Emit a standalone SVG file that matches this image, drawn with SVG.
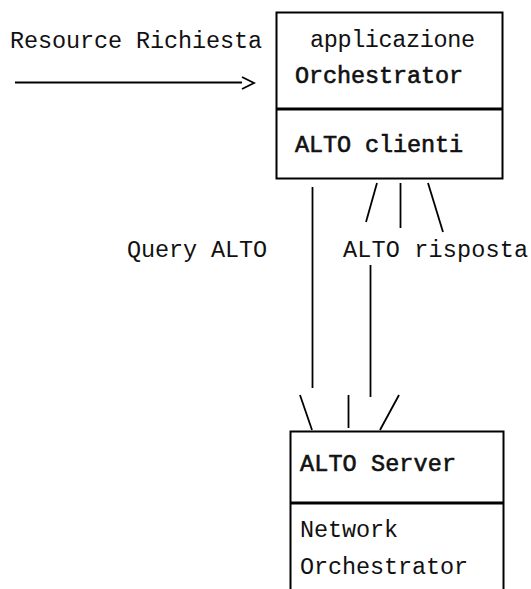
<svg xmlns="http://www.w3.org/2000/svg" width="531" height="589" viewBox="0 0 531 589">
  <style>
    .t { font-family: "Liberation Mono", "DejaVu Sans Mono", monospace; font-size: 23.5px; fill: #111; }
    .b { stroke: #111; stroke-width: 0.6; }
    .box { fill: #fff; stroke: #000; stroke-width: 2; }
    .div { stroke: #000; stroke-width: 3; }
    .ln { stroke: #000; stroke-width: 1.8; fill: none; }
  </style>
  <rect width="531" height="589" fill="#fff"/>

  <!-- connectors -->
  <g id="connectors">
    <line class="ln" x1="15" y1="82.5" x2="242" y2="82.5"/>
    <polyline class="ln" points="242,77 254,83 242,89" stroke-width="1.5"/>
    <!-- query: client to server -->
    <line class="ln" x1="312.5" y1="187" x2="312.5" y2="388"/>
    <line class="ln" x1="300" y1="395" x2="312" y2="430"/>
    <line class="ln" x1="348.5" y1="395" x2="348.5" y2="428"/>
    <line class="ln" x1="399" y1="395" x2="380" y2="430"/>
    <!-- response: server to client -->
    <line class="ln" x1="370.5" y1="265" x2="370.5" y2="397"/>
    <line class="ln" x1="377" y1="183" x2="366" y2="222"/>
    <line class="ln" x1="400.5" y1="183" x2="400.5" y2="228"/>
    <line class="ln" x1="428" y1="183" x2="443" y2="232"/>
  </g>

  <g id="labels">
    <text class="t" x="10" y="48" textLength="252">Resource Richiesta</text>
    <text class="t" x="127" y="257" textLength="140">Query ALTO</text>
    <text class="t" x="343" y="257" textLength="185">ALTO risposta</text>
  </g>

  <g id="orchestrator">
    <rect class="box" x="276.5" y="12.5" width="226" height="166"/>
    <line class="div" x1="276.5" y1="109" x2="502.5" y2="109"/>
    <text class="t" x="310" y="47" textLength="165">applicazione</text>
    <text class="t b" x="295" y="83" textLength="168">Orchestrator</text>
    <text class="t b" x="295" y="152" textLength="168">ALTO clienti</text>
  </g>

  <g id="alto-server">
    <rect class="box" x="290.5" y="431.5" width="213" height="180"/>
    <line class="div" x1="290.5" y1="503" x2="503.5" y2="503"/>
    <text class="t b" x="300" y="471" textLength="156">ALTO Server</text>
    <text class="t" x="300" y="537" textLength="98">Network</text>
    <text class="t" x="300" y="574" textLength="168">Orchestrator</text>
  </g>
</svg>
